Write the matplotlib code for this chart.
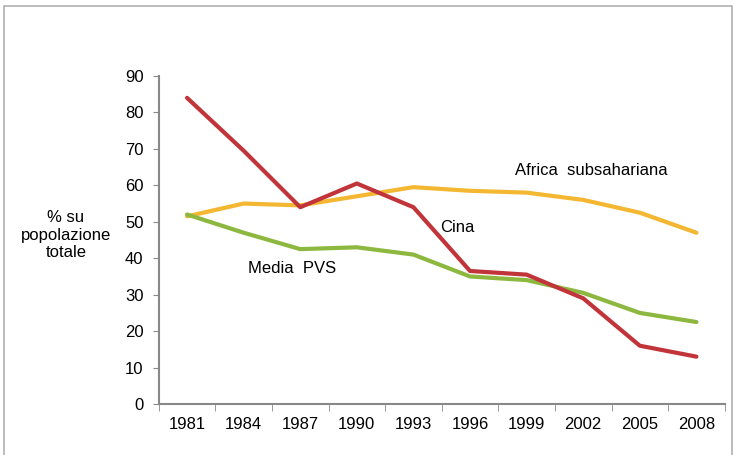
import matplotlib
matplotlib.use("Agg")
import matplotlib.pyplot as plt
from matplotlib.patches import Rectangle
import numpy as np

plt.rcParams['font.family'] = ['Liberation Sans', 'DejaVu Sans']

anni = ["1981", "1984", "1987", "1990", "1993", "1996", "1999", "2002", "2005", "2008"]
cina = [84, 69.5, 54, 60.5, 54, 36.5, 35.5, 29, 16, 13]
africa = [51.5, 55, 54.5, 57, 59.5, 58.5, 58, 56, 52.5, 47]
media_pvs = [52, 47, 42.5, 43, 41, 35, 34, 30.5, 25, 22.5]

fig = plt.figure(figsize=(7.35, 4.55), dpi=100)
ax = fig.add_axes([0.216, 0.112, 0.770, 0.721])

x = np.arange(len(anni))
ax.plot(x, africa, color="#f4b731", lw=3, solid_joinstyle="round", solid_capstyle="round")
ax.plot(x, media_pvs, color="#8db83f", lw=3, solid_joinstyle="round", solid_capstyle="round")
ax.plot(x, cina, color="#c1343a", lw=3, solid_joinstyle="round", solid_capstyle="round")

ax.set_xlim(-0.5, len(anni) - 0.5)
ax.set_ylim(0, 90)
ax.set_yticks(range(0, 91, 10))
ax.set_xticks(x)
ax.set_xticklabels(anni)
ax.set_xticks(np.arange(-0.5, len(anni)), minor=True)
ax.tick_params(axis='x', which='major', length=0, pad=9, labelsize=12)
ax.tick_params(axis='x', which='minor', length=5, color="#888888", direction="out")
ax.tick_params(axis='y', length=4, color="#888888", labelsize=12, pad=7)

for s in ["top", "right"]:
    ax.spines[s].set_visible(False)
for s in ["left", "bottom"]:
    ax.spines[s].set_color("#888888")
    ax.spines[s].set_linewidth(1.5)

fig.text(66 / 735, 1 - 235 / 455, "% su\npopolazione\ntotale", ha="center", va="center",
         fontsize=12, linespacing=1.2)

ax.text(5.8, 64.2, "Africa  subsahariana", fontsize=12, va="center")
ax.text(4.47, 48.3, "Cina", fontsize=12, va="center")
ax.text(1.08, 37.3, "Media  PVS", fontsize=12, va="center")

fig.patches.append(Rectangle((4 / 735, -0.01), 728 / 735, 1 - 6 / 455 + 0.01,
                             transform=fig.transFigure, fill=False,
                             edgecolor="#b0b0b0", lw=1.2))

fig.savefig("out.png", dpi=100)
